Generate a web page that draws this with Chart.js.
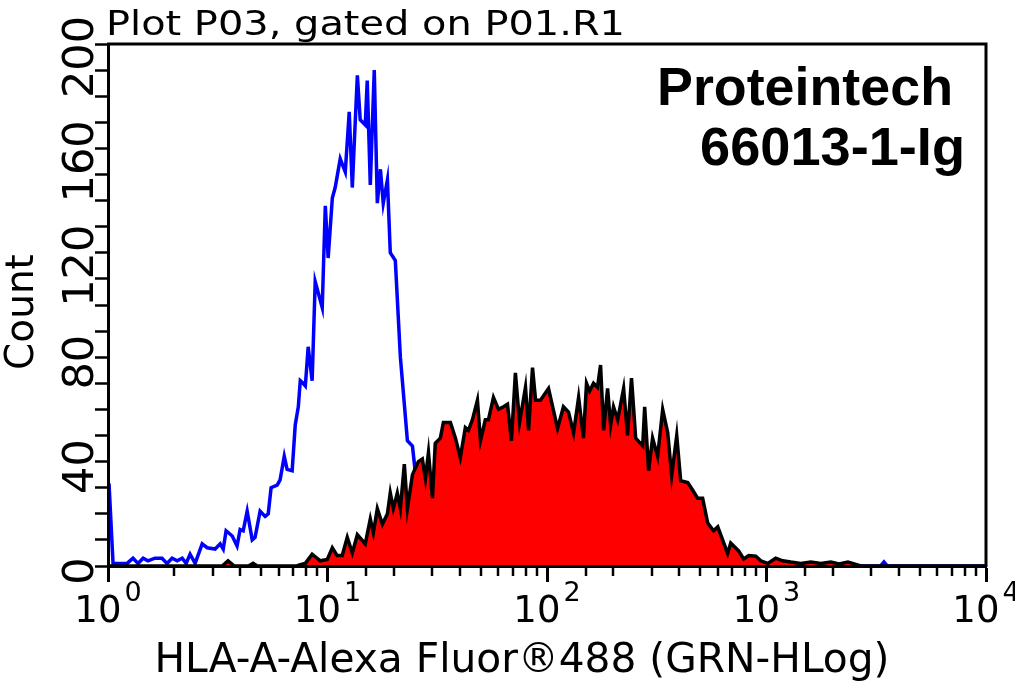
<!DOCTYPE html>
<html>
<head>
<meta charset="utf-8">
<script src="https://cdn.jsdelivr.net/npm/chart.js@4/dist/chart.umd.min.js"></script>
<style>
  html, body { margin: 0; padding: 0; background: #fff; }
  #wrap { width: 1015px; height: 683px; }
</style>
</head>
<body>
<div id="wrap"><canvas id="c" width="1015" height="683"></canvas></div>
<script>
// ---- data (x given as log10 of fluorescence, y = count) ----
const blueLog = [0.000,0.005,0.023,0.055,0.087,0.114,0.137,0.160,0.182,0.214,0.246,0.269,0.292,0.315,0.338,0.356,0.374,0.397,0.429,0.452,0.488,0.511,0.525,0.538,0.566,0.588,0.602,0.616,0.634,0.657,0.670,0.693,0.716,0.730,0.743,0.771,0.784,0.803,0.816,0.839,0.853,0.867,0.876,0.889,0.899,0.912,0.930,0.944,0.976,0.990,1.003,1.022,1.035,1.058,1.081,1.099,1.113,1.122,1.136,1.149,1.172,1.181,1.195,1.213,1.227,1.241,1.254,1.273,1.286,1.309,1.332,1.364,1.387,1.400,1.423,1.460,1.514,1.605,2.500,3.520,3.535,3.550,4.000];
const blueCount = [31,31,1,1,1,3,1,3,2,3,3,1,3,2,3,1,4.5,1,8.5,7,6.5,8.5,6.5,13.5,11.5,7.7,14,13.5,21,10,11,21,19,20,30,31,33,42,37,36.5,54,61,71,70,69,84,71,109,99,138,118,141,145,156,151,174,145,162,188,171,169,186,146,190,139,152,139,148,120,117,80,48,46,36,20,5,1,0,0,0,1.5,0,0];

const redLog = [0.000,0.520,0.547,0.575,0.640,0.661,0.680,0.860,0.876,0.899,0.930,0.967,0.999,1.022,1.044,1.067,1.090,1.113,1.136,1.172,1.195,1.209,1.227,1.250,1.273,1.286,1.300,1.318,1.332,1.350,1.364,1.387,1.414,1.432,1.446,1.460,1.478,1.491,1.514,1.528,1.560,1.583,1.605,1.628,1.642,1.660,1.683,1.697,1.719,1.733,1.756,1.779,1.802,1.820,1.838,1.856,1.875,1.902,1.916,1.934,1.948,1.970,2.007,2.048,2.075,2.098,2.121,2.144,2.166,2.180,2.194,2.212,2.230,2.244,2.258,2.276,2.290,2.303,2.322,2.349,2.367,2.385,2.404,2.436,2.445,2.463,2.481,2.504,2.527,2.550,2.568,2.591,2.609,2.641,2.664,2.686,2.709,2.732,2.759,2.778,2.823,2.837,2.873,2.896,2.919,2.951,2.974,3.006,3.042,3.074,3.111,3.156,3.202,3.247,3.293,3.330,3.371,3.430,4.000];
const redCount = [0,0,2,0,0,1,0,0,0.5,1,4.5,2,2.5,7,4,4,11,5,12,8.5,18,12.7,22,16,20,28,22,28,22,39,22,35,40,41,33.5,43.5,26,47,49,55,55,49,41.5,53,52,56,63.5,48,56,56,64.6,60,61,62,48,74,55,68.5,52,76,63.5,63.5,68,52.7,61,59,51,64.6,49,70,67,70,68.5,77,52,68,54,61,56,68,50,72,49,46,61,36.5,49,42,60,51,34.6,50,32.7,32,29,26,26,16.5,13.5,15,4.8,8.8,5.8,2.7,4,3.8,2,1,3,2,1.5,1,1.5,1,1.5,0.8,1.5,0,0];

const yTickLabels = ['0','40','80','120','160','200'];
const xDecades = [0,1,2,3,4];
const plotTitle = 'Plot P03, gated on P01.R1';
const xTitle = 'HLA-A-Alexa Fluor\u00AE488 (GRN-HLog)';
const yTitle = 'Count';
const brandLines = ['Proteintech', '66013-1-Ig'];

const toPoints = (lx, cy) => lx.map((v, i) => ({ x: Math.pow(10, v), y: cy[i] }));

function isMajor(v) {
  const l = Math.log10(v);
  return Math.abs(l - Math.round(l)) < 1e-9;
}

function fitText(ctx, text, x, y, font, targetW, align) {
  ctx.font = font;
  const w = ctx.measureText(text).width;
  const sx = targetW ? targetW / w : 1;
  ctx.save();
  ctx.translate(x, y);
  ctx.scale(sx, 1);
  ctx.textAlign = align || 'left';
  ctx.textBaseline = 'alphabetic';
  ctx.fillText(text, 0, 0);
  ctx.restore();
}

const decor = {
  id: 'decor',
  afterDraw(chart) {
    const ctx = chart.ctx;
    const xs = chart.scales.x, ys = chart.scales.y;
    const a = chart.chartArea;
    ctx.save();
    ctx.fillStyle = '#000';
    ctx.strokeStyle = '#000';
    // frame top & right
    ctx.lineWidth = 3;
    ctx.beginPath();
    ctx.moveTo(a.left - 1, a.top);
    ctx.lineTo(a.right, a.top);
    ctx.lineTo(a.right, a.bottom + 1);
    ctx.stroke();
    // minor x ticks
    ctx.lineWidth = 2.5;
    xs.ticks.forEach(t => {
      if (!isMajor(t.value)) {
        const px = Math.round(xs.getPixelForValue(t.value));
        ctx.beginPath();
        ctx.moveTo(px, a.bottom);
        ctx.lineTo(px, a.bottom + 10);
        ctx.stroke();
      }
    });
    // x tick labels: 10^n
    xDecades.forEach(n => {
      const px = xs.getPixelForValue(Math.pow(10, n));
      ctx.font = '37px "DejaVu Sans"';
      const wb = ctx.measureText('10').width;
      ctx.font = '27px "DejaVu Sans"';
      const we = ctx.measureText(String(n)).width;
      const gap = 3;
      const start = px - (wb + gap + we) / 2;
      ctx.textAlign = 'left';
      ctx.textBaseline = 'alphabetic';
      ctx.font = '37px "DejaVu Sans"';
      ctx.fillText('10', start, 622);
      ctx.font = '27px "DejaVu Sans"';
      ctx.fillText(String(n), start + wb + gap, 601);
    });
    // y tick labels (rotated)
    yTickLabels.forEach(lbl => {
      const py = ys.getPixelForValue(Number(lbl));
      const off = lbl.length >= 3 ? 13 : 5;
      ctx.save();
      ctx.translate(93, py + off);
      ctx.rotate(-Math.PI / 2);
      ctx.font = '43px "DejaVu Sans"';
      ctx.textAlign = 'center';
      ctx.textBaseline = 'alphabetic';
      ctx.fillText(lbl, 0, 0);
      ctx.restore();
    });
    // titles
    fitText(ctx, plotTitle, 106, 35, '34px "DejaVu Sans"', 519, 'left');
    fitText(ctx, xTitle, 522, 672, '40px "DejaVu Sans"', 735, 'center');
    ctx.save();
    ctx.translate(33, 312);
    ctx.rotate(-Math.PI / 2);
    ctx.font = '39px "DejaVu Sans"';
    ctx.textAlign = 'center';
    ctx.fillText(yTitle, 0, 0);
    ctx.restore();
    // brand text
    fitText(ctx, brandLines[0], 657, 105, 'bold 54px "Liberation Sans"', 296, 'left');
    fitText(ctx, brandLines[1], 700, 165, 'bold 54px "Liberation Sans"', 265, 'left');
    ctx.restore();
  }
};

new Chart(document.getElementById('c'), {
  type: 'line',
  data: {
    datasets: [
      {
        label: 'Sample',
        data: toPoints(redLog, redCount),
        borderColor: '#000000',
        backgroundColor: '#ff0000',
        borderWidth: 3.5,
        fill: 'origin',
        pointRadius: 0,
        tension: 0,
        order: 0
      },
      {
        label: 'Control',
        data: toPoints(blueLog, blueCount),
        borderColor: '#0000ff',
        borderWidth: 3.5,
        fill: false,
        pointRadius: 0,
        tension: 0,
        order: 1
      }
    ]
  },
  options: {
    responsive: false,
    animation: false,
    devicePixelRatio: 1,
    parsing: true,
    layout: { padding: { left: 95, top: 44, right: 29, bottom: 101 } },
    plugins: { legend: { display: false }, tooltip: { enabled: false }, title: { display: false } },
    scales: {
      x: {
        type: 'logarithmic',
        min: 1,
        max: 10000,
        ticks: { display: false },
        grid: {
          drawOnChartArea: false,
          drawTicks: true,
          tickLength: 16,
          tickWidth: 3,
          tickColor: (c) => (c.tick && isMajor(c.tick.value)) ? '#000' : 'rgba(0,0,0,0)'
        },
        border: { display: true, color: '#000', width: 3, z: 1 }
      },
      y: {
        type: 'linear',
        min: 0,
        max: 200,
        ticks: { display: false, stepSize: 10 },
        grid: { drawOnChartArea: false, drawTicks: true, tickLength: 13, tickWidth: 2.5, tickColor: '#000' },
        border: { display: true, color: '#000', width: 3, z: 1 }
      }
    }
  },
  plugins: [decor]
});
</script>
</body>
</html>
